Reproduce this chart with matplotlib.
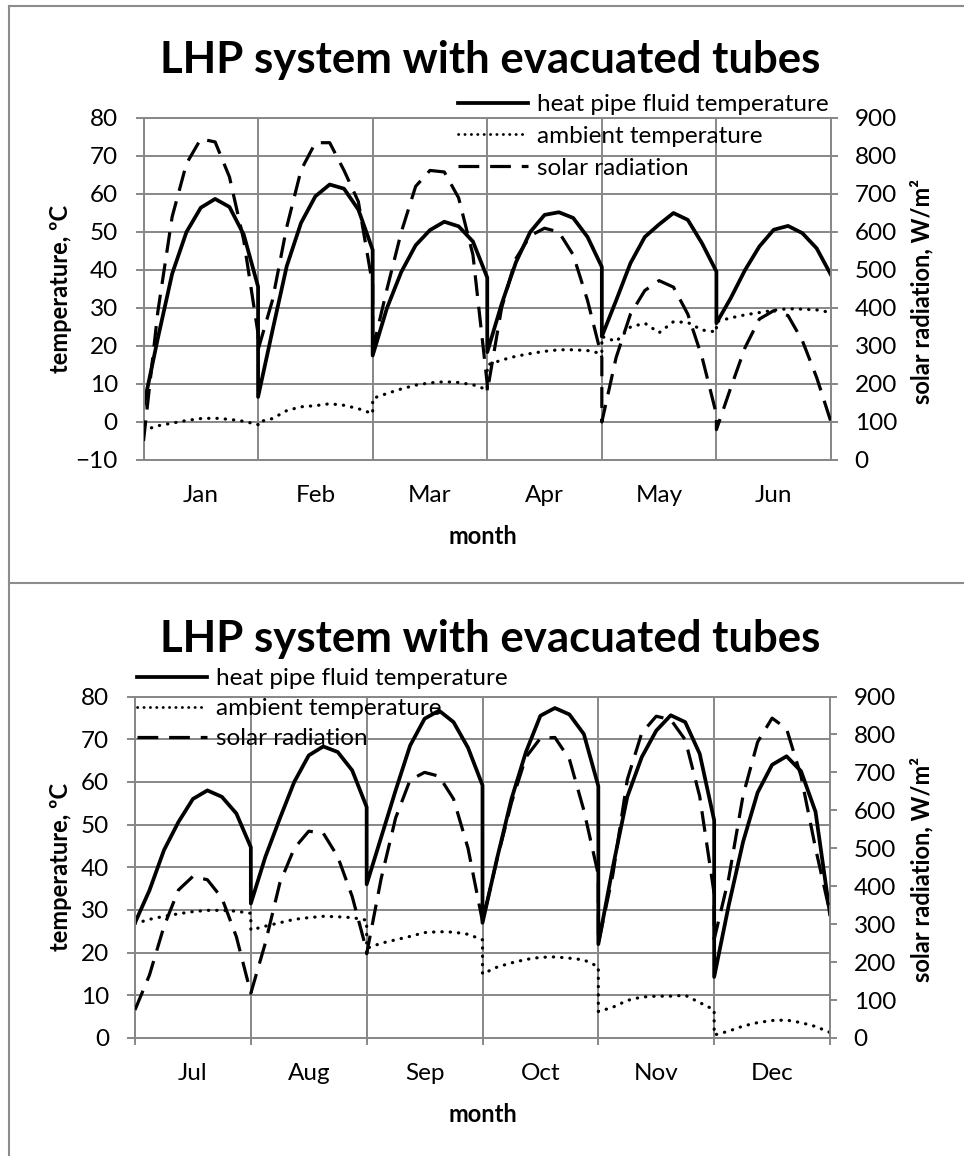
import matplotlib
matplotlib.use('Agg')
import matplotlib.pyplot as plt
from matplotlib.lines import Line2D
import numpy as np

plt.rcParams['font.family'] = ['Lato', 'DejaVu Sans']

W, H = 964, 1156

# nine readings per month, morning to evening
months_1 = ['Jan', 'Feb', 'Mar', 'Apr', 'May', 'Jun']
pipe_1 = [
    [4.0, 22, 39, 50, 56.4, 58.7, 56.6, 49.3, 35.6],
    [6.6, 24, 41, 52.4, 59.4, 62.5, 61.4, 55.9, 45.3],
    [17.5, 30, 39.5, 46.5, 50.5, 52.7, 51.5, 47.5, 38],
    [18.4, 31, 42, 50, 54.5, 55.2, 53.7, 48.7, 40.8],
    [22.5, 32, 41.8, 48.7, 52, 55, 53.2, 47, 39.6],
    [26, 32.6, 40, 46.2, 50.6, 51.6, 49.7, 45.7, 38.7],
]
amb_1 = [
    [-2.2, -1, -0.3, 0.4, 0.9, 1.0, 0.7, 0.2, -0.7],
    [0, 0.9, 3.0, 4.0, 4.3, 4.8, 4.4, 3.5, 2.2],
    [6.2, 7.5, 8.7, 9.7, 10.3, 10.6, 10.4, 9.8, 8.5],
    [15, 16.3, 17.3, 18, 18.6, 19, 19, 18.8, 18],
    [22.5, 21.2, 25, 26, 23.5, 26.4, 26.2, 24.2, 23.7],
    [26.4, 27.4, 28.2, 28.8, 29.4, 29.8, 29.7, 29.5, 28.8],
]
rad_1 = [
    [50, 390, 640, 780, 845, 837, 745, 578, 332],
    [290, 420, 613, 763, 835, 835, 762, 680, 460],
    [290, 450, 600, 720, 762, 758, 690, 540, 200],
    [180, 400, 530, 590, 610, 600, 540, 420, 270],
    [100, 270, 384, 446, 472, 455, 384, 270, 120],
    [80, 190, 296, 371, 393, 380, 314, 217, 100],
]

months_2 = ['Jul', 'Aug', 'Sep', 'Oct', 'Nov', 'Dec']
pipe_2 = [
    [27, 34.6, 44, 50.6, 56, 58, 56.5, 52.6, 44.7],
    [31.5, 42.4, 51.4, 60, 66.2, 68.3, 67, 62.7, 54.1],
    [36, 47, 58, 68.5, 74.8, 76.7, 74, 68, 59.2],
    [27, 42, 56, 67, 75.5, 77.3, 75.8, 71.2, 59],
    [22, 40, 56.5, 65.8, 72, 75.6, 74, 66.6, 51],
    [14.3, 31, 46, 57.5, 64, 66, 62.5, 53, 29],
]
amb_2 = [
    [26.8, 27.8, 28.5, 29.1, 29.6, 29.9, 29.9, 29.7, 29.2],
    [25.3, 26.2, 27, 27.8, 28.2, 28.5, 28.4, 28.2, 27.6],
    [21, 22.2, 23, 23.8, 24.7, 24.9, 24.8, 24.3, 23.0],
    [15, 16.6, 17.6, 18.4, 18.9, 19, 18.7, 18.3, 16.7],
    [6.2, 7.2, 8.8, 9.6, 9.8, 9.8, 10, 8.3, 6.6],
    [0.7, 1.6, 2.8, 3.6, 4.1, 4.2, 3.6, 2.7, 1.3],
]
rad_2 = [
    [74, 166, 294, 390, 426, 417, 369, 267, 118],
    [118, 250, 408, 500, 545, 540, 478, 373, 230],
    [222, 420, 580, 680, 700, 690, 630, 500, 307],
    [307, 470, 620, 740, 790, 792, 735, 600, 430],
    [250, 430, 681, 804, 848, 839, 786, 637, 380],
    [260, 420, 640, 780, 843, 815, 690, 500, 330],
]

labels = ['heat pipe fluid temperature', 'ambient temperature', 'solar radiation']

GRID = '#878787'
FS = 17.5
LFS = 17


def px(x):
    return x / W


def py(y):
    return 1 - y / H


def series(values):
    xs = np.concatenate([m + np.arange(9) / 8 for m in range(len(values))])
    return xs, np.concatenate(values)


def panel(fig, box, months, pipe, amb, rad, ylo, ticks_below, title_y, leg_xy):
    l, t, r, b = box
    ax = fig.add_axes([px(l), py(b), px(r - l), (b - t) / H])
    ax2 = ax.twinx()

    x, y = series(pipe)
    ax.plot(x, y, color='black', lw=2.7, solid_joinstyle='round')
    x, y = series(amb)
    ax.plot(x, y, color='black', lw=2.3, ls=(0, (0.1, 2.5)), dash_capstyle='round')
    x, y = series(rad)
    ax2.plot(x, y, color='black', lw=2.3, ls=(0, (6.5, 3.4)), dash_capstyle='butt')

    ax.set_xlim(0, 6)
    ax.set_ylim(ylo, 80)
    ax.set_yticks(np.arange(ylo, 81, 10))
    ax2.set_ylim(0, 900)
    ax2.set_yticks(np.arange(0, 901, 100))

    ax.set_xticks(range(7))
    ax.set_xticklabels([])
    ax.set_xticks(np.arange(6) + 0.5, minor=True)
    ax.set_xticklabels(months, minor=True, fontsize=FS)
    ax.tick_params(axis='x', which='major', length=5 if ticks_below else 0,
                   width=1.4, color=GRID)
    ax.tick_params(axis='x', which='minor', length=0, pad=18)
    ax.tick_params(axis='y', length=5.5, width=1.4, color=GRID, pad=13, labelsize=FS)
    ax2.tick_params(axis='y', length=5, width=1.4, color=GRID, pad=12, labelsize=FS)

    ax.grid(True, which='major', color=GRID, lw=1.4)
    ax.set_axisbelow(True)
    for s in ax.spines.values():
        s.set_color(GRID)
        s.set_linewidth(1.4)
    for s in ax2.spines.values():
        s.set_visible(False)

    fig.text(px(490), py(title_y), 'LHP system with evacuated tubes',
             fontsize=31.5, fontweight='bold', ha='center', va='baseline')
    fig.text(px(483), py(b + 84), 'month', fontsize=LFS, fontweight='bold',
             ha='center', va='baseline')
    fig.text(px(60), py((t + b) / 2), 'temperature, ºC', fontsize=LFS,
             fontweight='bold', rotation=90, ha='center', va='center')
    fig.text(px(922), py((t + b) / 2 + 2), 'solar radiation, W/m²', fontsize=LFS,
             fontweight='bold', rotation=90, ha='center', va='center')

    handles = [
        Line2D([], [], color='black', lw=2.7),
        Line2D([], [], color='black', lw=2.0, ls=(0, (0.1, 2.2)), dash_capstyle='round'),
        Line2D([], [], color='black', lw=2.3, ls=(0, (6.5, 3.4))),
    ]
    fig.legend(handles, labels, loc='upper left',
               bbox_to_anchor=(px(leg_xy[0]), py(leg_xy[1])),
               frameon=False, fontsize=FS, handlelength=2.9, handletextpad=0.37,
               labelspacing=leg_xy[2], borderpad=0, borderaxespad=0)
    return ax


fig = plt.figure(figsize=(W / 100, H / 100), dpi=100)

# chart borders
for xs, ys in [((9, W), (6, 6)), ((9, W), (583, 583)), ((9, 9), (6, H))]:
    fig.add_artist(Line2D([px(v) for v in xs], [py(v) for v in ys],
                          color='#8c8c8c', lw=1.5, transform=fig.transFigure))

panel(fig, (143.5, 118, 831, 460), months_1, pipe_1, amb_1, rad_1, -10, False, 73, (458, 94, 0.45))
panel(fig, (135, 696.5, 830, 1038), months_2, pipe_2, amb_2, rad_2, 0, True, 652, (137, 668, 0.37))

fig.savefig('out.png', dpi=100)
